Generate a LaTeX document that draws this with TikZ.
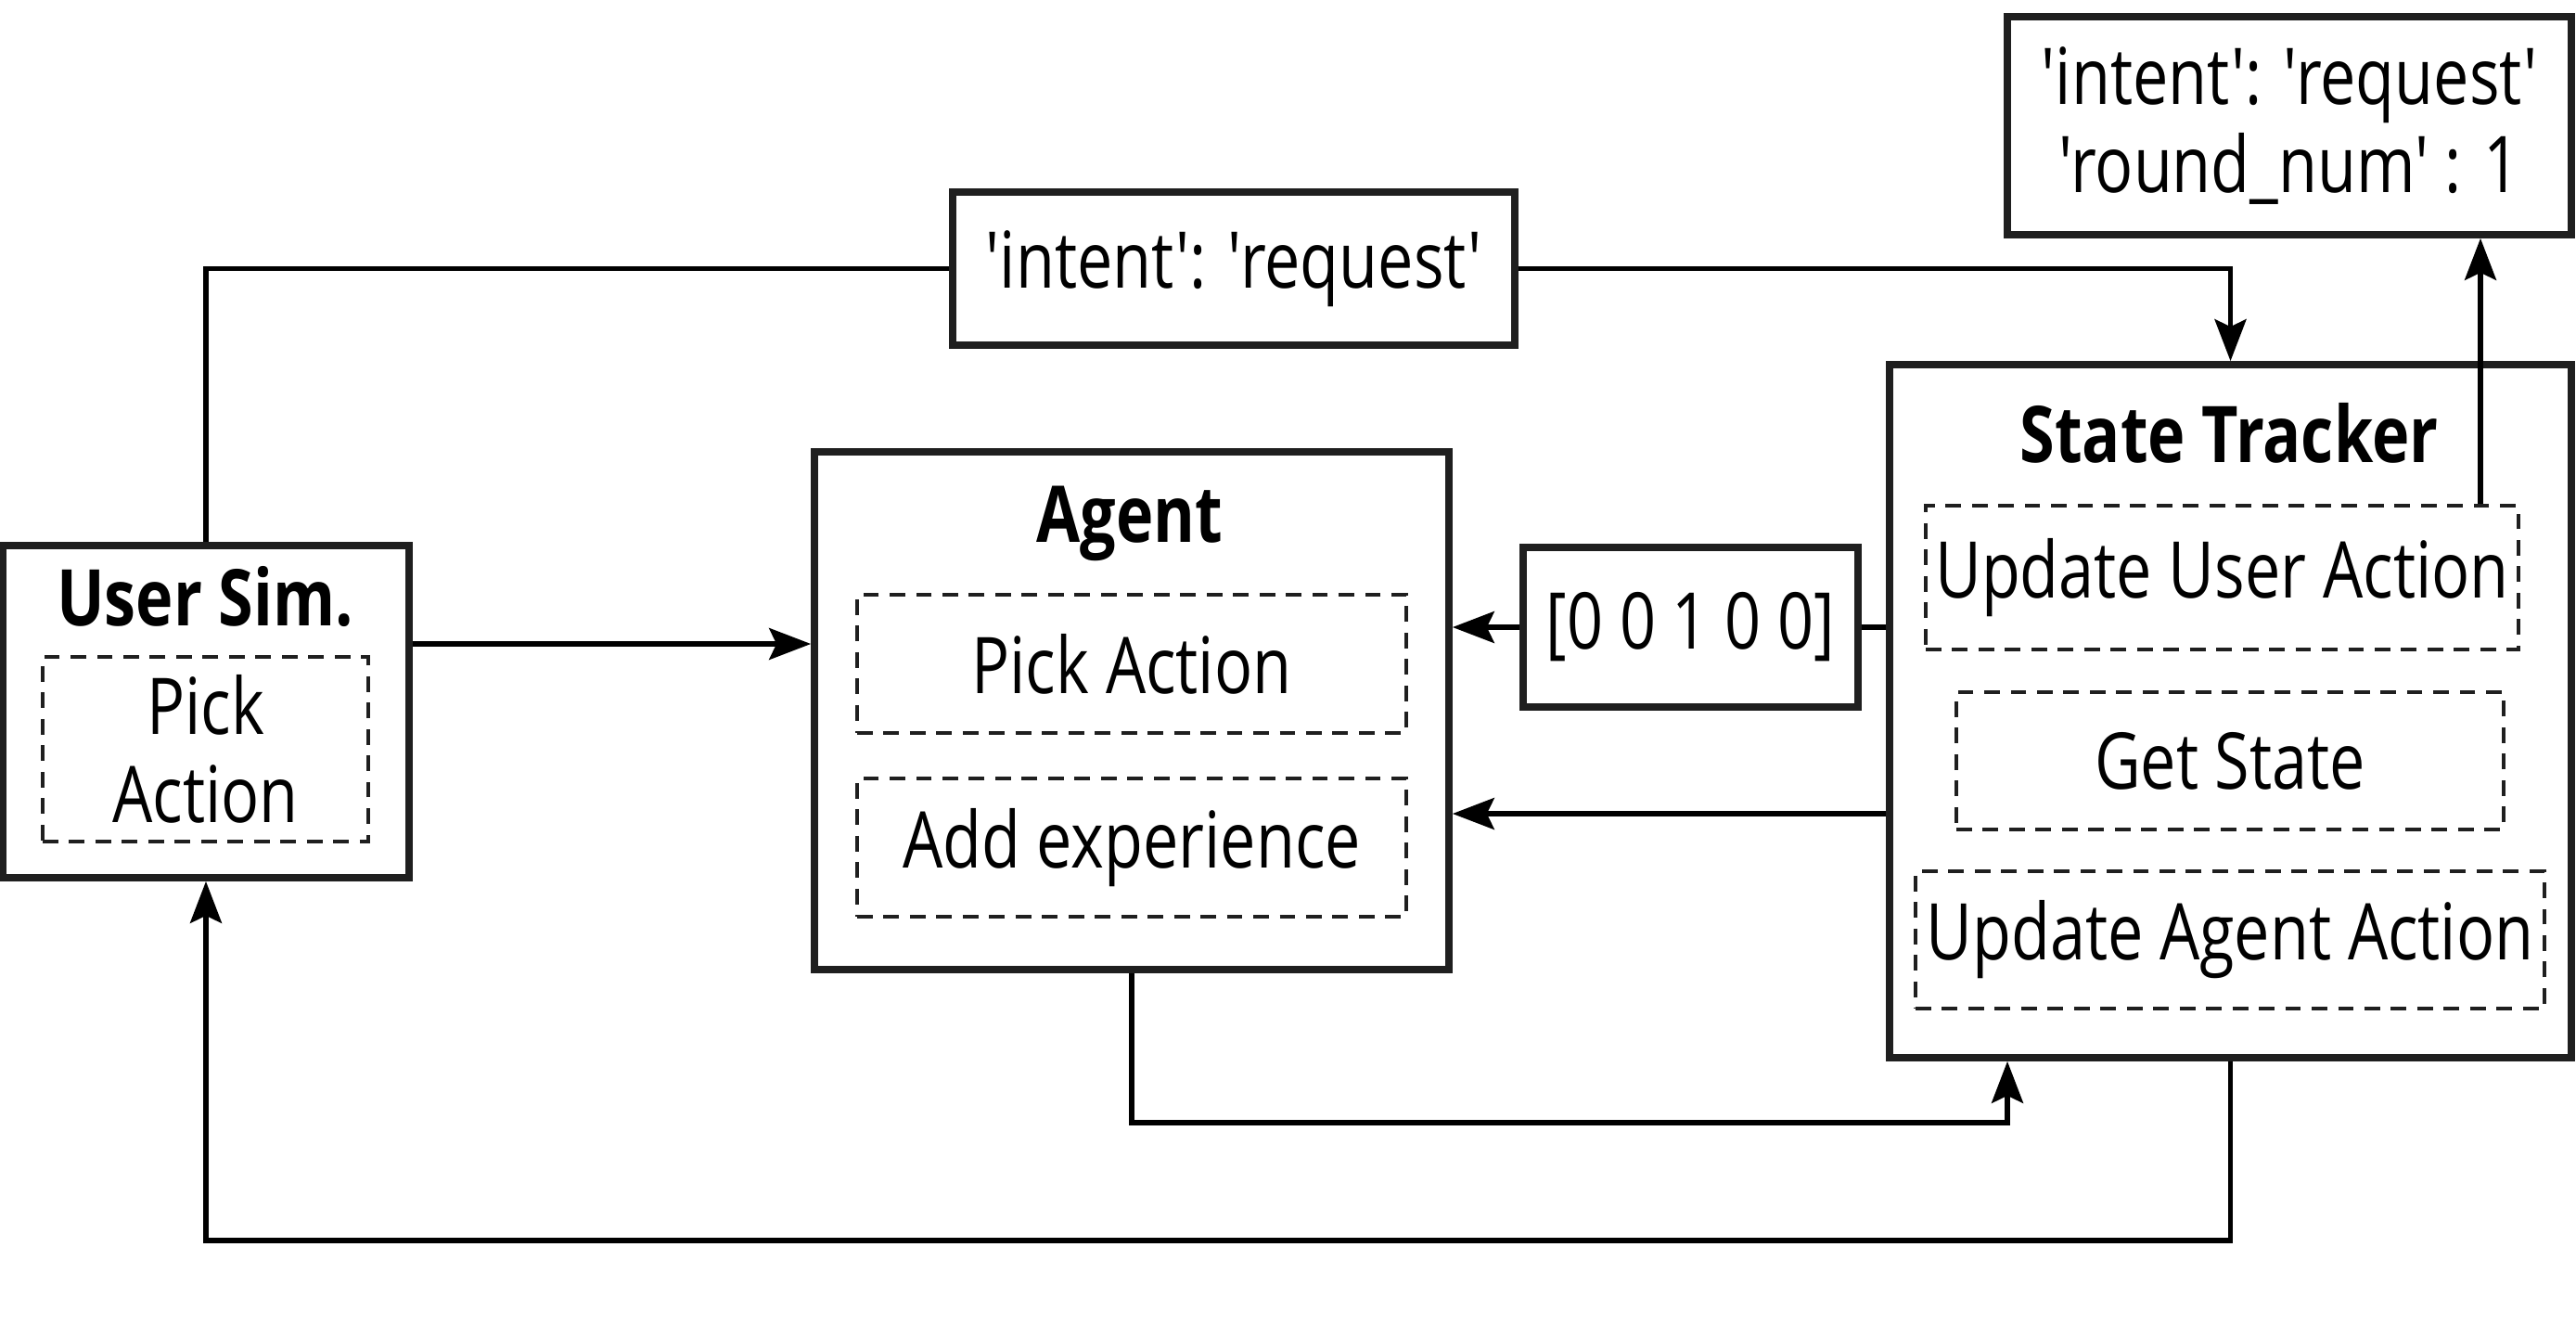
\documentclass[tikz,border=0pt]{standalone}
\usepackage{fontspec}
\setmainfont{Open Sans}[Ligatures=TeXOff,FakeStretch=0.81]
\usetikzlibrary{arrows.meta}

\tikzset{
	bigbox/.style={draw=black!88, line width=2.2pt, inner sep=0pt},
	dashbox/.style={draw=black!88, line width=0.95pt, dash pattern=on 4.8pt off 3.3pt, inner sep=0pt, align=center},
	conn/.style={draw=black, line width=1.45pt},
	arr/.style={conn, -{Stealth[length=4.5mm,width=3.4mm,inset=0.8mm]}},
	boxtitle/.style={font=\fontsize{24}{27}\selectfont\bfseries}
}

\begin{document}
\begin{tikzpicture}[font=\fontsize{24}{27.2}\selectfont]
			%%%%% START %%%%%
			\useasboundingbox (0,0) rectangle (27.77,-14.4);
			
			% user simulator
			\node[bigbox, minimum width=4.38cm, minimum height=3.58cm] (usersim) at (2.22,-7.67) {};
			\node[boxtitle] (usersimtitle) at (2.21,-6.43) {User Sim.};
			\node[dashbox, minimum width=3.51cm, minimum height=1.99cm] (userpick) at (2.215,-8.075) {Pick\\Action};
			
			% agent
			\node[bigbox, minimum width=6.84cm, minimum height=5.58cm] (agent) at (12.2,-7.66) {};
			\node[boxtitle] (agenttitle) at (12.18,-5.64) {Agent};
			\node[dashbox, minimum width=5.92cm, minimum height=1.49cm] (pickact) at (12.2,-7.155) {Pick Action};
			\node[dashbox, minimum width=5.92cm, minimum height=1.49cm] (addexp) at (12.2,-9.135) {Add experience};
			
			% state tracker
			\node[bigbox, minimum width=7.35cm, minimum height=7.47cm] (tracker) at (24.045,-7.665) {};
			\node[boxtitle] (trackertitle) at (24.03,-4.67) {State Tracker};
			\node[dashbox, minimum width=6.39cm, minimum height=1.55cm] (upduser) at (23.955,-6.225) {Update User Action};
			\node[dashbox, minimum width=5.9cm, minimum height=1.48cm] (getstate) at (24.04,-8.2) {Get State};
			\node[dashbox, minimum width=6.78cm, minimum height=1.48cm] (updagent) at (24.04,-10.13) {Update Agent Action};
			
			% messages
			\node[bigbox, minimum width=6.06cm, minimum height=1.65cm] (intentmsg) at (13.3,-2.895) {'intent': 'request'};
			\node[bigbox, minimum width=3.61cm, minimum height=1.72cm] (vecmsg) at (18.225,-6.76) {[0 0 1 0 0]};
			\node[bigbox, minimum width=6.08cm, minimum height=2.35cm, align=center] (stateout) at (24.68,-1.355) {'intent': 'request'\\'round\_num' : 1};
			
			\coordinate (agentloop) at (21.64,-12.1);
			\coordinate (bottomline) at (0,-13.37);
			
			% connectors
			\draw[conn] (usersim.north) |- (intentmsg.west);
			\draw[arr] (intentmsg.east) -| (tracker.north);
			\draw[arr] ([yshift=7.3mm]usersim.east) -- ([yshift=7.3mm]usersim.east -| agent.west);
			\draw[conn] (tracker.west |- vecmsg.east) -- (vecmsg.east);
			\draw[arr] (vecmsg.west) -- (vecmsg.west -| agent.east);
			\draw[arr] ([yshift=-11.05mm]tracker.west) -- ([yshift=-11.05mm]tracker.west -| agent.east);
			\draw[arr] (agent.south) |- (agentloop) -- (agentloop |- tracker.south);
			\draw[arr] (tracker.south) |- (usersim.south |- bottomline) -- (usersim.south);
			\draw[arr] ([xshift=27.85mm]upduser.north) -- ([xshift=27.85mm]upduser.north |- stateout.south);
			
			%%%%% END %%%%%
\end{tikzpicture}
\end{document}
